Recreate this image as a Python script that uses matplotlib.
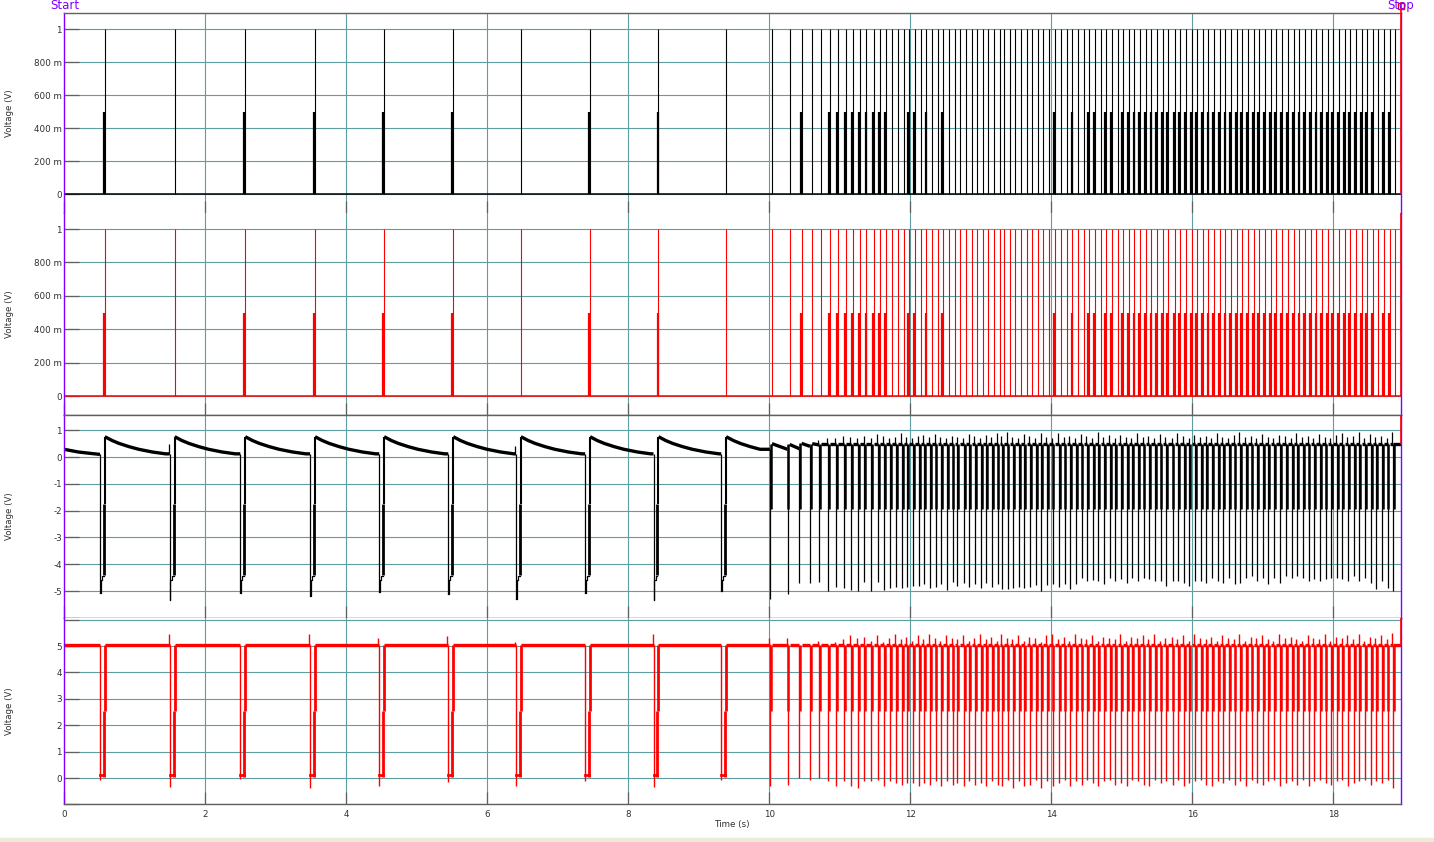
import matplotlib
matplotlib.use("Agg")
import matplotlib.pyplot as plt
from matplotlib.lines import Line2D
from matplotlib.patches import Rectangle

# ---- data read off the scope capture ----
# pulse times (s), slow train, ramp-up and steady burst
slow_times = [0.58, 1.57, 2.57, 3.56, 4.54, 5.52, 6.48, 7.46, 8.43, 9.39]
ramp_times = [10.04, 10.29, 10.46, 10.61, 10.74, 10.86, 10.98, 11.09, 11.19, 11.29,
              11.38, 11.48, 11.57, 11.66, 11.74, 11.83, 11.91, 11.98, 12.07, 12.15,
              12.23, 12.31, 12.39, 12.47, 12.55, 12.63, 12.70, 12.79, 12.87, 12.95,
              13.03, 13.11, 13.19, 13.27]
burst_times = [13.33, 13.41, 13.49, 13.57, 13.65, 13.73, 13.81, 13.89, 13.97, 14.05,
               14.14, 14.22, 14.30, 14.38, 14.46, 14.54, 14.62, 14.70, 14.78, 14.86,
               14.94, 15.02, 15.10, 15.18, 15.26, 15.34, 15.42, 15.50, 15.58, 15.66,
               15.75, 15.83, 15.91, 15.99, 16.07, 16.15, 16.23, 16.31, 16.39, 16.47,
               16.55, 16.63, 16.71, 16.79, 16.87, 16.95, 17.03, 17.11, 17.19, 17.27,
               17.36, 17.44, 17.52, 17.60, 17.68, 17.76, 17.84, 17.92, 18.00, 18.08,
               18.16, 18.24, 18.32, 18.40, 18.48, 18.56, 18.64, 18.72, 18.80, 18.88]

# 1 = pulse has the 500 m marker next to it
slow_half = [1, 0, 1, 1, 1, 1, 0, 1, 1, 0]
ramp_half = [0, 0, 1, 0, 0, 1, 1, 1, 1, 1, 1, 1, 1, 1, 0, 0, 0, 1, 1, 0,
             1, 0, 0, 1, 0, 0, 0, 0, 0, 0, 0, 0, 0, 0]
burst_half = [0, 0, 0, 0, 0, 0, 0, 0, 0, 1, 0, 0, 1, 0, 0, 1, 1, 0, 1, 1,
              0, 1, 1, 1, 1, 1, 1, 1, 1, 1, 1, 1, 1, 1, 1, 1, 1, 1, 1, 1,
              1, 1, 1, 1, 1, 1, 1, 1, 1, 1, 1, 1, 1, 1, 1, 1, 1, 1, 1, 1,
              1, 1, 1, 1, 1, 1, 0, 1, 1, 0]

# trace 3: minimum of each negative spike (V), overshoot above baseline (0 = none)
slow_trough3 = [-5.07, -5.33, -5.07, -5.20, -5.05, -5.10, -5.30, -5.07, -5.33, -5.00]
ramp_trough3 = [-5.28, -5.10, -4.70, -4.70, -4.65, -5.00, -4.85, -4.90, -4.95, -5.00,
                -4.65, -5.00, -4.65, -4.95, -4.90, -4.85, -4.90, -4.85, -4.80, -4.80,
                -4.75, -4.90, -4.85, -4.75, -4.95, -4.65, -4.80, -4.70, -4.85, -4.75,
                -4.90, -4.70, -4.85, -4.75]
burst_trough3 = [-4.94, -4.94, -4.88, -4.84, -4.88, -4.84, -4.79, -5.00, -4.79, -4.75,
                 -4.84, -4.73, -4.94, -4.73, -4.50, -4.63, -4.60, -4.63, -4.75, -4.50,
                 -4.63, -4.56, -4.69, -4.50, -4.63, -4.50, -4.56, -4.63, -4.63, -4.81,
                 -4.63, -4.63, -4.69, -4.81, -4.63, -4.63, -4.69, -4.50, -4.63, -4.69,
                 -4.50, -4.75, -4.69, -4.50, -4.44, -4.63, -4.50, -4.75, -4.50, -4.69,
                 -4.44, -4.50, -4.44, -4.50, -4.63, -4.56, -4.63, -4.56, -4.50, -4.50,
                 -4.56, -4.63, -4.44, -4.63, -4.50, -4.69, -4.94, -4.63, -4.88, -5.00]
slow_peak3 = [0, 0.47, 0, 0, 0, 0, 0.42, 0, 0, 0]
ramp_peak3 = [0, 0, 0, 0, 0.62, 0.72, 0.70, 0.78, 0.75, 0.72,
              0.80, 0.70, 0.85, 0.78, 0.72, 0.76, 0.88, 0.75, 0.70, 0.78,
              0.82, 0.74, 0.86, 0.75, 0.70, 0.80, 0.76, 0.72, 0.85, 0.78,
              0.70, 0.82, 0.76, 0.90]
burst_peak3 = [0.80, 0.92, 0.75, 0.70, 0.85, 0.78, 0.72, 0.90, 0.76, 0.70,
               0.88, 0.74, 0.80, 0.72, 0.86, 0.78, 0.70, 0.92, 0.75, 0.82,
               0.70, 0.84, 0.76, 0.72, 0.88, 0.74, 0.80, 0.70, 0.86, 0.76,
               0.72, 0.90, 0.78, 0.70, 0.84, 0.75, 0.80, 0.72, 0.88, 0.76,
               0.70, 0.82, 0.92, 0.74, 0.78, 0.70, 0.86, 0.75, 0.72, 0.84,
               0.78, 0.70, 0.88, 0.74, 0.80, 0.72, 0.86, 0.76, 0.70, 0.82,
               0.90, 0.74, 0.78, 0.92, 0.72, 0.86, 0.76, 0.80, 0.70, 0.95]

# trace 3 baseline: start of capture, decay after a slow pulse, ramp levels
init3_t = [0.0, 0.2, 0.4, 0.51]
init3_v = [0.29, 0.19, 0.13, 0.10]
decay_dt = [0.0, 0.1, 0.2, 0.34, 0.48, 0.67, 0.86]
decay_v = [0.76, 0.62, 0.51, 0.39, 0.29, 0.19, 0.12]
ramp_base_start = [0.50, 0.47, 0.51, 0.50]
ramp_base_end = [0.29, 0.31, 0.40, 0.45]
burst_level3 = 0.50

# trace 4: low point of each drop and overshoot top (V)
slow_trough4 = [-0.08, -0.35, -0.05, -0.38, -0.30, -0.15, -0.30, -0.10, -0.34, -0.08]
ramp_trough4 = [-0.32, -0.28, 0.0, -0.06, 0.0, -0.13, -0.32, -0.13, -0.32, -0.38,
                -0.13, -0.13, -0.06, -0.32, -0.13, -0.19, -0.26, -0.19, -0.19, -0.32,
                -0.19, -0.26, -0.13, -0.32, -0.13, -0.26, -0.19, -0.32, -0.13, -0.26,
                -0.19, -0.32, -0.13, -0.26]
burst_trough4 = [-0.30, -0.06, -0.38, -0.13, -0.32, -0.26, -0.06, -0.38, -0.13, -0.32,
                 -0.19, -0.06, -0.32, -0.13, -0.26, -0.06, -0.19, -0.32, -0.13, -0.06,
                 -0.26, -0.19, -0.32, -0.06, -0.13, -0.26, -0.32, -0.06, -0.19, -0.13,
                 -0.26, -0.06, -0.32, -0.19, -0.13, -0.06, -0.26, -0.32, -0.13, -0.19,
                 -0.06, -0.26, -0.13, -0.32, -0.06, -0.19, -0.26, -0.13, -0.06, -0.32,
                 -0.19, -0.13, -0.26, -0.06, -0.32, -0.13, -0.06, -0.19, -0.26, -0.13,
                 -0.06, -0.32, -0.19, -0.13, -0.06, -0.26, -0.13, -0.19, -0.06, -0.36]
slow_peak4 = [5.05, 5.45, 5.05, 5.45, 5.30, 5.38, 5.15, 5.05, 5.45, 5.05]
ramp_peak4 = [5.30, 5.30, 5.05, 5.05, 5.20, 5.05, 5.15, 5.25, 5.40, 5.30,
              5.35, 5.20, 5.40, 5.15, 5.30, 5.45, 5.25, 5.35, 5.20, 5.40,
              5.25, 5.45, 5.30, 5.20, 5.40, 5.30, 5.25, 5.40, 5.20, 5.30,
              5.45, 5.25, 5.35, 5.20]
burst_peak4 = [5.45, 5.30, 5.25, 5.40, 5.20, 5.35, 5.30, 5.15, 5.40, 5.45,
               5.25, 5.35, 5.20, 5.45, 5.30, 5.25, 5.40, 5.20, 5.35, 5.30,
               5.25, 5.45, 5.20, 5.35, 5.30, 5.40, 5.25, 5.45, 5.20, 5.30,
               5.35, 5.25, 5.40, 5.20, 5.45, 5.30, 5.25, 5.35, 5.20, 5.40,
               5.30, 5.25, 5.45, 5.20, 5.35, 5.30, 5.40, 5.25, 5.20, 5.45,
               5.30, 5.35, 5.25, 5.20, 5.40, 5.30, 5.25, 5.45, 5.20, 5.35,
               5.30, 5.40, 5.25, 5.45, 5.20, 5.35, 5.30, 5.40, 5.25, 5.50]
level4 = 5.05

pulse_times = slow_times + ramp_times + burst_times
half_flags = slow_half + ramp_half + burst_half
trough3 = slow_trough3 + ramp_trough3 + burst_trough3
peak3 = slow_peak3 + ramp_peak3 + burst_peak3
trough4 = slow_trough4 + ramp_trough4 + burst_trough4
peak4 = slow_peak4 + ramp_peak4 + burst_peak4

T_END = 18.96
n_slow = len(slow_times)
n = len(pulse_times)

# ---- layout (pixel based, 1434x842) ----
W, H = 1434, 842
fig = plt.figure(figsize=(W / 100, H / 100), dpi=100)
fig.patch.set_facecolor('white')
fig.add_artist(Rectangle((0, 0), 1, 4 / H, transform=fig.transFigure,
                         color='#ECE9D8', zorder=0))

TEAL = '#5F9EA0'
GRAY = '#606060'
PURPLE = '#8000FF'
TXT = '#303030'

x0, x1 = 64, 1401
bounds = [(13, 212.7), (212.7, 415), (415, 617.8), (617.8, 804.4)]
axes = []
for top, bot in bounds:
    ax = fig.add_axes([x0 / W, 1 - bot / H, (x1 - x0) / W, (bot - top) / H])
    axes.append(ax)
ax1, ax2, ax3, ax4 = axes

for ax in axes:
    ax.set_xlim(0, T_END)
    ax.set_xticks(range(0, 19, 2))
    ax.set_axisbelow(True)
    ax.grid(True, color=TEAL, lw=0.8)
    ax.tick_params(axis='y', direction='in', length=10.5, width=0.9, color=GRAY,
                   labelsize=6.3, labelcolor=TXT, pad=1.5)
    ax.tick_params(axis='x', direction='in', length=9, width=0.9, color=GRAY,
                   labelsize=6.3, labelcolor=TXT, pad=4)
    for s in ['left', 'right']:
        ax.spines[s].set_color(PURPLE)
        ax.spines[s].set_linewidth(1.0)
    for s in ['top', 'bottom']:
        ax.spines[s].set_color(GRAY)
        ax.spines[s].set_linewidth(1.0)
    ax.set_ylabel('Voltage (V)', fontsize=6.2, color=TXT)
    ax.yaxis.set_label_coords(-0.0375, 0.5)
    if ax is not ax4:
        ax.tick_params(axis='x', labelbottom=False)

ax1.spines['bottom'].set_visible(False)
ax2.spines['top'].set_visible(False)
ax4.spines['top'].set_visible(False)

m_ticks = [0, 0.2, 0.4, 0.6, 0.8, 1.0]
m_labels = ['0', '200 m', '400 m', '600 m', '800 m', '1']
for ax, top in [(ax1, 1.097), (ax2, 1.098)]:
    ax.set_ylim(-0.113, top)
    ax.set_yticks(m_ticks)
    ax.set_yticklabels(m_labels)

ax3.set_ylim(-6.0, 1.57)
ax3.set_yticks(range(-6, 2))
ax3.set_yticklabels([''] + [str(v) for v in range(-5, 2)])
ax4.set_ylim(-1.0, 6.07)
ax4.set_yticks(range(-1, 7))
ax4.set_yticklabels([''] + [str(v) for v in range(0, 6)] + [''])
ax4.set_xticklabels([str(v) for v in range(0, 19, 2)])

# ---- traces 1 and 2: pulse trains ----
half_times = [t - 0.012 for t, h in zip(pulse_times, half_flags) if h]
for ax, col in [(ax1, 'black'), (ax2, 'red')]:
    ax.hlines(0, 0, T_END, color=col, lw=1.1)
    ax.vlines(pulse_times, 0, 1, color=col, lw=0.8)
    ax.vlines(half_times, 0, 0.5, color=col, lw=1.6)


def drop_time(i):
    w = 0.07 if i < n_slow else 0.03
    return pulse_times[i] - w


# ---- trace 3 ----
seg_x, seg_y = list(init3_t), list(init3_v)
for i, t in enumerate(pulse_times):
    d = drop_time(i)
    seg_x.append(d)
    seg_y.append(seg_y[-1])
    ax3.plot(seg_x, seg_y, color='black', lw=2.4, solid_capstyle='butt')
    b_end = seg_y[-1]
    nxt = drop_time(i + 1) if i + 1 < n else T_END
    if i < n_slow:
        seg_x = [t + dt for dt in decay_dt if t + dt < nxt]
        seg_y = decay_v[:len(seg_x)]
    elif i - n_slow < len(ramp_base_start):
        k = i - n_slow
        seg_x = [t, nxt]
        seg_y = [ramp_base_start[k], ramp_base_end[k]]
    else:
        seg_x = [t, nxt]
        seg_y = [burst_level3, burst_level3]
    b_start = seg_y[0]

    tr = trough3[i]
    ax3.vlines(d, tr, b_end, color='black', lw=0.9)
    if peak3[i] > 0:
        ax3.vlines(d - 0.012, b_end, peak3[i], color='black', lw=0.9)
    if i < n_slow:
        ax3.plot([d, d + 0.01, d + 0.01, d + 0.03, d + 0.03, t - 0.015],
                 [tr, tr, -4.6, -4.6, -4.45, -4.45], color='black', lw=0.9)
        ax3.vlines(t - 0.015, -4.4, -1.75, color='black', lw=2.0)
        ax3.vlines(t, -1.75, b_start, color='black', lw=1.5)
    else:
        ax3.vlines(d + 0.012, -1.95, b_start, color='black', lw=1.8)
ax3.plot(seg_x + [T_END], seg_y + [seg_y[-1]], color='black', lw=2.4)

# ---- trace 4 ----
prev = 0.0
for i, t in enumerate(pulse_times):
    d = drop_time(i)
    ax4.plot([prev, d], [level4, level4], color='red', lw=2.4, solid_capstyle='butt')
    ax4.vlines(d, trough4[i], level4, color='red', lw=1.0)
    if peak4[i] > level4 + 0.01:
        ax4.vlines(d - 0.012, level4, peak4[i], color='red', lw=1.0)
    if i < n_slow:
        ax4.plot([d, t - 0.015], [0.1, 0.1], color='red', lw=2.0)
        ax4.vlines(t - 0.015, 0.05, 2.55, color='red', lw=2.0)
        ax4.vlines(t, 2.55, level4, color='red', lw=2.0)
    else:
        ax4.vlines(d + 0.012, 2.55, level4, color='red', lw=1.8)
    prev = t
ax4.plot([prev, T_END], [level4, level4], color='red', lw=2.4)

# ---- stop cursor: red above the last value of each trace ----
end_vals = [0, 0, burst_level3, level4]
for ax, v in zip(axes, end_vals):
    ax.vlines(T_END, v, ax.get_ylim()[1], color='red', lw=1.2, zorder=4, clip_on=False)

fig.add_artist(Line2D([x1 / W, x1 / W], [1 - 3 / H, 1 - 13 / H], color='red',
                      lw=1.2, transform=fig.transFigure))
fig.add_artist(Line2D([x1 / W], [1 - 6 / H], marker='s', ms=5, mfc='none', mec='red',
                      mew=1.0, transform=fig.transFigure))
fig.text(64.5 / W, 1 - 5.5 / H, 'Start', ha='center', va='center', color=PURPLE, fontsize=8.5)
fig.text(1401 / W, 1 - 5.5 / H, 'Stop', ha='center', va='center', color=PURPLE, fontsize=8.5)
fig.text(732 / W, 1 - 824 / H, 'Time (s)', ha='center', va='center', color=TXT, fontsize=6.3)

fig.savefig('out.png', dpi=100)
